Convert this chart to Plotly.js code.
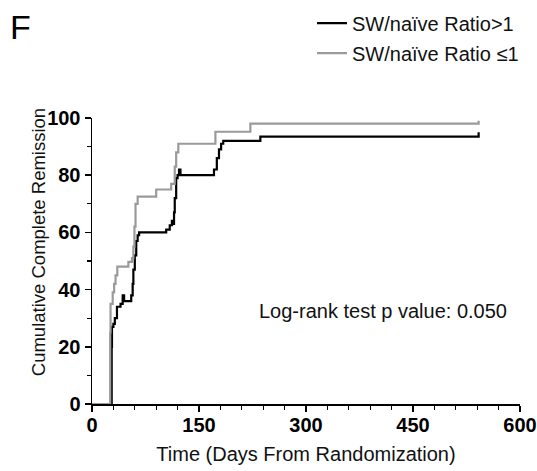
<!DOCTYPE html>
<html><head><meta charset="utf-8">
<script src="https://cdn.plot.ly/plotly-3.0.1.min.js"></script>
<style>html,body{margin:0;padding:0;background:#fff}#plot{width:537px;height:471px}</style>
</head><body><div id="plot"></div>
<script>
// Series: SW/naive Ratio>1 (black)
const daysHigh = [0,27,27.6,28,30,32,35,40,43,45,54,55,57,58,60,62,64,66,100,104,109,112,114,115,116,118,120,122,124,168,171,175,178,181,184,235,236,540,542];
const crHigh   = [0,0,20,27,28,30,34,35,38,36,36,38,42,47,52,57,59,60,60,61,62.5,64,63,67,72,79,80,82,80,80,82,86,89,91,92,92,93.5,93.5,95];
// Series: SW/naive Ratio <=1 (gray)
const daysLow = [0,25,25.5,26,29,31,33,35.5,50,51,56,58,59.5,61,64,89,90,109,111,114,116,118,121,172,173,221,222,540,542];
const crLow   = [0,0,25,35,39,42,45,48,48,49.7,51,55,62,70,72.5,72.5,75,75,77,77,83,88,91,91,95.2,95.2,98,98,99];
const seriesNames = ["SW/naïve Ratio>1", "SW/naïve Ratio ≤1"];
const xTicks = [0,150,300,450,600];
const yTicks = [0,20,40,60,80,100];

const tickFont = {family:"'Liberation Sans Narrow','Arial Narrow','Liberation Sans',Arial,sans-serif", size:20, color:'#000', weight:'bold'};
const txtFont = {family:"'Liberation Sans',Arial,sans-serif", size:20, color:'#111'};

const traces = [
  {x:daysHigh, y:crHigh, mode:'lines', line:{shape:'hv', color:'#000', width:2.2}, name:seriesNames[0], legendgroup:'a'},
  {x:daysLow, y:crLow, mode:'lines', line:{shape:'hv', color:'#9a9a9a', width:2.2}, name:seriesNames[1], legendgroup:'b'}
];
const axisCommon = {showgrid:false, zeroline:false, showline:true, linecolor:'#000', linewidth:1.5,
  ticks:'outside', ticklen:6, tickwidth:1.5, tickcolor:'#000', tickfont:tickFont, layer:'below traces'};
const layout = {
  width:537, height:471,
  margin:{l:92, r:17, t:118, b:67, autoexpand:false},
  paper_bgcolor:'#fff', plot_bgcolor:'#fff',
  showlegend:true,
  legend:{x:0.514, y:1.40, xanchor:'left', yanchor:'top',
    font:txtFont, tracegroupgap:1, bgcolor:'rgba(0,0,0,0)'},
  xaxis:Object.assign({}, axisCommon, {range:[0,600], tickvals:xTicks, ticktext:xTicks.map(String), ticklabelstandoff:-4,
    minor:{dtick:30, tick0:0, ticks:'outside', ticklen:4, tickwidth:1.2, tickcolor:'#000'},
    title:{text:'Time (Days From Randomization)', font:txtFont, standoff:12}}),
  yaxis:Object.assign({}, axisCommon, {range:[0,100], tickvals:yTicks, ticktext:yTicks.map(String),
    minor:{dtick:10, tick0:0, ticks:'outside', ticklen:4, tickwidth:1.2, tickcolor:'#000'}}),
  annotations:[
    {xref:'paper', yref:'paper', x:-0.126, y:0.566, xanchor:'center', yanchor:'middle', showarrow:false, textangle:-90,
     text:'Cumulative Complete Remission', font:Object.assign({}, txtFont, {size:18.5})},
    {xref:'paper', yref:'paper', x:0.386, y:0.326, xanchor:'left', yanchor:'middle', showarrow:false,
     text:'Log-rank test p value: 0.050', font:txtFont},
    {xref:'paper', yref:'paper', x:-0.166, y:1.319, xanchor:'center', yanchor:'middle', showarrow:false,
     text:'F', font:{family:"'Liberation Sans',Arial,sans-serif", size:34, color:'#000'}}
  ]
};
Plotly.newPlot('plot', traces, layout, {displayModeBar:false, staticPlot:true});
</script></body></html>
